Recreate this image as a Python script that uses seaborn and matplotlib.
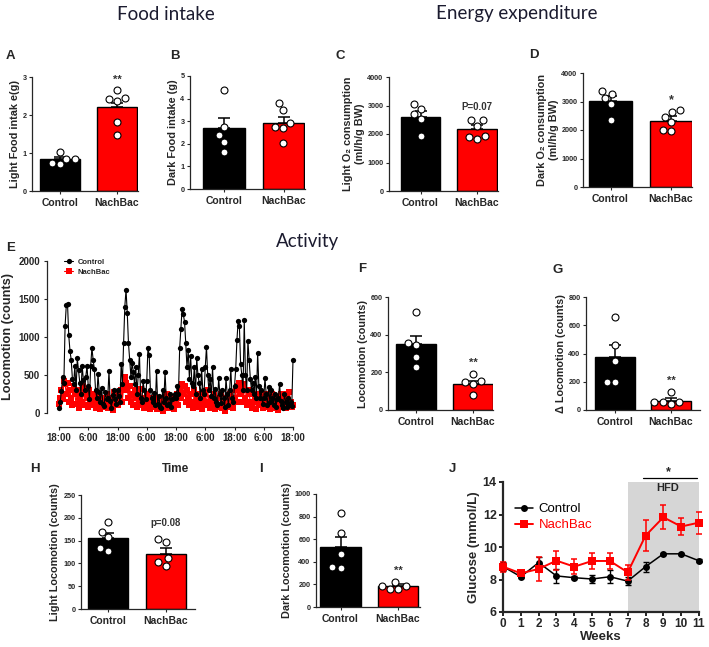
import numpy as np
import pandas as pd
import matplotlib
matplotlib.use('Agg')
import matplotlib.pyplot as plt
import seaborn as sns

sns.set_theme(style='ticks')
plt.rcParams['font.family'] = ['Liberation Sans', 'DejaVu Sans']
plt.rcParams['font.weight'] = 'bold'
plt.rcParams['axes.labelweight'] = 'bold'

W, H = 709, 647
groups = ['Control', 'NachBac']
bar_colors = ['#000000', '#ff0000']

# ---------------- data ----------------
# A: light food intake (g)
a_mean = [0.85, 2.2]
a_sem = [0.05, 0.11]
a_ctrl = [1.02, 0.85, 0.71, 0.75, 0.85]
a_nb = [2.65, 2.45, 2.36, 2.42, 1.81, 1.48]
# B: dark food intake (g)
b_mean = [2.7, 2.9]
b_sem = [0.43, 0.27]
b_ctrl = [4.38, 2.76, 2.39, 2.09, 1.65]
b_nb = [3.79, 3.5, 2.9, 2.73, 2.68, 2.05]
# C: light O2 consumption
c_mean = [2610, 2165]
c_sem = [200, 150]
c_ctrl = [3053, 2865, 2690, 2515, 1941]
c_nb = [2491, 2491, 2281, 1941, 1825, 1906]
# D: dark O2 consumption
d_mean = [3030, 2330]
d_sem = [165, 160]
d_ctrl = [3263, 3380, 3111, 2900, 2351]
d_nb = [2702, 2620, 2468, 2269, 1977, 2000]
# F: locomotion
f_mean = [349, 138]
f_sem = [46, 17]
f_ctrl = [522, 344, 356, 282, 229]
f_nb = [190, 150, 140, 155, 79]
# G: delta locomotion
g_mean = [376, 62]
g_sem = [83, 20]
g_ctrl = [659, 459, 346, 198, 198]
g_nb = [129, 54, 42, 54, 59]
# H: light locomotion
h_mean = [155, 121]
h_sem = [12, 12]
h_ctrl = [190, 169, 157, 128, 134]
h_nb = [153, 148, 112, 95, 103]
# I: dark locomotion
i_mean = [533, 186]
i_sem = [88, 15]
i_ctrl = [828, 651, 473, 343, 355]
i_nb = [225, 186, 160, 160, 189]

# E: locomotion time course (30-min bins over 4 days)
e_hours = [k * 0.5 for k in range(193)]
e_ctrl = [60, 150, 290, 480, 400, 1150, 1420, 1430, 1020, 820, 700, 450, 380, 620, 300, 720, 560, 400, 250, 620, 440, 300, 480, 620,
          350, 180, 620, 860, 700, 580, 300, 200, 510, 280, 150, 330, 120, 90, 280, 180, 200, 550, 160, 60, 240, 300, 180, 120,
          300, 220, 150, 650, 380, 920, 1400, 1620, 1320, 920, 700, 480, 660, 540, 380, 600, 250, 500, 780, 200, 150, 420, 300, 180,
          420, 860, 760, 300, 200, 140, 260, 100, 550, 120, 220, 80, 60, 300, 150, 540, 200, 100, 120, 250, 80, 180, 200, 250,
          200, 350, 250, 850, 1100, 1370, 1300, 1200, 920, 600, 830, 450, 750, 400, 350, 600, 250, 720, 500, 400, 200, 580, 300, 250,
          600, 870, 500, 300, 450, 220, 600, 200, 320, 150, 100, 460, 250, 130, 300, 200, 80, 460, 250, 100, 300, 580, 200, 150,
          350, 580, 960, 1210, 1150, 650, 500, 300, 1220, 500, 300, 950, 700, 450, 300, 400, 250, 480, 200, 790, 350, 200, 300, 120,
          200, 460, 250, 100, 340, 150, 300, 200, 100, 250, 80, 180, 200, 380, 160, 100, 60, 250, 150, 80, 200, 100, 150, 90,
          700]
e_nb = [120, 200, 300, 180, 420, 380, 250, 400, 150, 300, 200, 100, 350, 250, 120, 300, 60, 200, 280, 150, 350, 100, 250, 200,
        80, 300, 150, 250, 100, 200, 60, 180, 250, 100, 50, 200, 150, 80, 120, 250, 60, 150, 100, 200, 40, 280, 120, 150,
        100, 200, 250, 300, 150, 350, 470, 400, 300, 200, 350, 150, 250, 100, 300, 200, 80, 250, 150, 320, 100, 200, 60, 150,
        250, 100, 200, 50, 150, 80, 200, 120, 50, 180, 100, 60, 150, 30, 200, 100, 80, 250, 60, 150, 100, 200, 50, 120,
        150, 250, 100, 300, 200, 380, 250, 350, 150, 300, 200, 100, 250, 150, 60, 300, 120, 200, 80, 250, 150, 50, 180, 100,
        250, 100, 300, 150, 60, 200, 120, 250, 50, 150, 200, 80, 100, 250, 60, 150, 30, 200, 120, 80, 250, 100, 150, 60,
        200, 300, 150, 350, 400, 250, 300, 150, 380, 200, 100, 300, 250, 150, 60, 250, 150, 200, 50, 180, 100, 250, 120, 60,
        150, 250, 80, 200, 100, 50, 180, 250, 60, 150, 100, 200, 40, 150, 250, 80, 120, 200, 60, 250, 100, 280, 150, 80,
        100]
e_ticks = [0, 12, 24, 36, 48, 60, 72, 84, 96]
e_ticklabels = ['18:00', '6:00', '18:00', '6:00', '18:00', '6:00', '18:00', '6:00', '18:00']

# J: glucose
weeks = list(range(12))
j_ctrl = [8.8, 8.17, 9.04, 8.22, 8.11, 8.03, 8.17, 7.9, 8.79, 9.58, 9.58, 9.15]
j_ctrl_sem = [0.25, 0.1, 0.33, 0.42, 0.1, 0.25, 0.4, 0.25, 0.3, 0.05, 0.08, 0.1]
j_nb = [8.79, 8.38, 8.65, 9.16, 8.79, 9.14, 9.14, 8.44, 10.7, 11.83, 11.26, 11.5]
j_nb_sem = [0.3, 0.12, 0.73, 0.6, 0.45, 0.47, 0.47, 0.45, 0.95, 0.74, 0.53, 0.68]

# ---------------- figure ----------------
fig = plt.figure(figsize=(W / 100, H / 100), dpi=100)


def axes_px(left, top, right, bottom):
    return fig.add_axes([left / W, 1 - bottom / H, (right - left) / W, (bottom - top) / H])


def letter(x, y, s):
    fig.text(x / W, 1 - y / H, s, fontsize=9.5, fontweight='bold', ha='center', va='center')


def bar_panel(box, ylim, yticks, mean, sem, ctrl, nb, ylabel, sig=None, sig_y=None, sig_size=8):
    axis_x, c0, c1, right_px, top_px, bot_px = box
    s = c1 - c0
    ax = axes_px(axis_x, top_px, right_px, bot_px)
    df = pd.DataFrame({'group': groups, 'value': mean})
    sns.barplot(data=df, x='group', y='value', hue='group', order=groups, hue_order=groups,
                palette=bar_colors, saturation=1, edgecolor='black', linewidth=1.0, width=0.7,
                errorbar=None, legend=False, ax=ax)
    for p in ax.patches:
        p.set_zorder(2)
    pts = pd.DataFrame({'group': ['Control'] * len(ctrl) + ['NachBac'] * len(nb),
                        'value': list(ctrl) + list(nb)})
    sns.swarmplot(data=pts, x='group', y='value', order=groups, color='white',
                  edgecolor='black', linewidth=0.8, size=5.0, zorder=4, ax=ax)
    ax.errorbar([0, 1], mean, yerr=[[0, 0], sem], fmt='none', ecolor='black',
                elinewidth=1.1, capsize=4, capthick=1.1, zorder=3)
    ax.set_xlim(-(c0 - axis_x) / s, 1 + (right_px - c1) / s)
    ax.set_ylim(*ylim)
    ax.set_yticks(yticks)
    ax.set_xlabel('')
    ax.set_ylabel(ylabel, fontsize=7.8, labelpad=2)
    sns.despine(ax=ax)
    for sp in ['left', 'bottom']:
        ax.spines[sp].set_linewidth(0.9)
    ax.tick_params(axis='y', labelsize=5.2, length=2.5, width=0.8, pad=1.5)
    ax.tick_params(axis='x', labelsize=7.5, length=2.5, width=0.8, pad=2.5)
    for t in ax.get_xticklabels() + ax.get_yticklabels():
        t.set_fontweight('bold')
    if sig is not None:
        ax.text(1, sig_y, sig, ha='center', va='center', fontsize=sig_size,
                color='#333333', fontweight='bold')
    return ax


# Titles
fig.text(166 / W, 1 - 14 / H, 'Food intake', fontsize=13.5, family=['Lato', 'DejaVu Sans'],
         fontweight='normal', color='#1b1b2f', ha='center', va='center')
fig.text(517 / W, 1 - 14 / H, 'Energy expenditure', fontsize=13.5, family=['Lato', 'DejaVu Sans'],
         fontweight='normal', color='#1b1b2f', ha='center', va='center')
fig.text(307 / W, 1 - 241 / H, 'Activity', fontsize=13.5, family=['Lato', 'DejaVu Sans'],
         fontweight='normal', color='#1b1b2f', ha='center', va='center')

# A
bar_panel((32, 60, 117, 138, 77, 191), (0, 3), [0, 1, 2, 3], a_mean, a_sem, a_ctrl, a_nb,
          'Light Food intak e(g)', '**', 2.92)
letter(10, 56, 'A')
# B
bar_panel((190, 224, 283.5, 305, 76, 189), (0, 5), [0, 1, 2, 3, 4, 5], b_mean, b_sem, b_ctrl, b_nb,
          'Dark Food intake (g)')
letter(175, 56, 'B')
# C
bar_panel((389, 420.5, 477, 498, 77, 191), (0, 4000), [0, 1000, 2000, 3000, 4000], c_mean, c_sem, c_ctrl, c_nb,
          'Light O\u2082 consumption\n(ml/h/g BW)', 'P=0.07', 2947, 7)
letter(340, 56, 'C')
# D
bar_panel((583, 610.5, 671, 692, 73, 187), (0, 4000), [0, 1000, 2000, 3000, 4000], d_mean, d_sem, d_ctrl, d_nb,
          'Dark O\u2082 consumption\n(ml/h/g BW)', '*', 3053, 9)
letter(534, 55, 'D')
# F
bar_panel((388, 416, 473, 493, 297, 410), (0, 600), [0, 200, 400, 600], f_mean, f_sem, f_ctrl, f_nb,
          'Locomotion (counts)', '**', 251)
letter(362, 269, 'F')
# G
bar_panel((586, 615, 671, 700, 297, 410), (0, 800), [0, 200, 400, 600, 800], g_mean, g_sem, g_ctrl, g_nb,
          '\u0394 Locomotion (counts)', '**', 207)
letter(558, 270, 'G')
# H
bar_panel((81, 108, 166, 195, 495, 609), (0, 250), [0, 50, 100, 150, 200, 250], h_mean, h_sem, h_ctrl, h_nb,
          'Light Locomotion (counts)', 'p=0.08', 189, 7)
letter(35, 469, 'H')
# I
bar_panel((316, 340.5, 398, 420, 494, 607), (0, 1000), [0, 200, 400, 600, 800, 1000], i_mean, i_sem, i_ctrl, i_nb,
          'Dark Locomotion (counts)', '**', 321)
letter(261, 469, 'I')

# E
axE = axes_px(59, 261, 293, 413)
sns.lineplot(x=e_hours, y=e_nb, ax=axE, color='#ff0000', marker='s', markersize=3.8,
             markeredgewidth=0, linewidth=0.8, estimator=None, label='NachBac')
sns.lineplot(x=e_hours, y=e_ctrl, ax=axE, color='black', marker='o', markersize=3.8,
             markeredgewidth=0, linewidth=0.8, estimator=None, label='Control')
for ln in axE.lines:
    ln.set_clip_on(False)
axE.set_xlim(0, 96)
axE.set_ylim(0, 2000)
axE.set_xticks(e_ticks)
axE.set_xticklabels(e_ticklabels)
axE.set_yticks([0, 500, 1000, 1500, 2000])
sns.despine(ax=axE)
axE.spines['left'].set_position(('outward', 9))
axE.spines['bottom'].set_position(('outward', 10))
for sp in ['left', 'bottom']:
    axE.spines[sp].set_linewidth(0.9)
axE.tick_params(axis='both', labelsize=7, length=2.5, width=0.8, pad=2)
for t in axE.get_xticklabels() + axE.get_yticklabels():
    t.set_fontweight('bold')
axE.set_ylabel('Locomotion (counts)', fontsize=9.2, labelpad=3)
axE.set_xlabel('Time', fontsize=8.5, labelpad=14)
hE, lE = axE.get_legend_handles_labels()
axE.legend(hE[::-1], lE[::-1], loc='upper left', bbox_to_anchor=(-0.01, 1.06), frameon=False,
           handlelength=1.3, handletextpad=0.5, labelspacing=0.3,
           prop={'weight': 'bold', 'size': 5.5})
letter(11, 248, 'E')

# J
axJ = axes_px(503, 482, 699, 612)
axJ.axvspan(7, 11, color='#d6d6d6', lw=0, zorder=0)
sns.lineplot(x=weeks, y=j_ctrl, ax=axJ, color='black', marker='o', markersize=5,
             markeredgewidth=0, linewidth=1.1, estimator=None, label='Control', zorder=3)
axJ.errorbar(weeks, j_ctrl, yerr=j_ctrl_sem, fmt='none', ecolor='black', elinewidth=1.0,
             capsize=2.5, capthick=1.0, zorder=3)
sns.lineplot(x=weeks, y=j_nb, ax=axJ, color='#ff0000', marker='s', markersize=5.5,
             markeredgewidth=0, linewidth=1.4, estimator=None, label='NachBac', zorder=4)
axJ.errorbar(weeks, j_nb, yerr=j_nb_sem, fmt='none', ecolor='#ff0000', elinewidth=1.1,
             capsize=2.5, capthick=1.1, zorder=4)
for ln in axJ.lines:
    ln.set_clip_on(False)
axJ.set_xlim(0, 11)
axJ.set_ylim(6, 14)
axJ.set_xticks(weeks)
axJ.set_yticks([6, 8, 10, 12, 14])
sns.despine(ax=axJ)
for sp in ['left', 'bottom']:
    axJ.spines[sp].set_linewidth(1.6)
axJ.tick_params(axis='x', labelsize=8.5, length=3, width=1.4, pad=1)
axJ.tick_params(axis='y', labelsize=9, length=3, width=1.4, pad=1.5)
for t in axJ.get_xticklabels() + axJ.get_yticklabels():
    t.set_fontweight('bold')
axJ.set_xlabel('Weeks', fontsize=9.5, labelpad=1)
axJ.set_ylabel('Glucose (mmol/L)', fontsize=9.5, labelpad=2)
axJ.legend(loc='upper left', bbox_to_anchor=(0.0, 0.93), frameon=False,
           handlelength=1.4, handletextpad=0.4, labelspacing=0.3, labelcolor='linecolor',
           prop={'weight': 'normal', 'size': 9.5})
axJ.text(9.27, 13.62, 'HFD', ha='center', va='center', fontsize=8, fontweight='bold')
axJ.plot([7.86, 10.9], [14.25, 14.25], color='black', lw=0.9, clip_on=False)
axJ.text(9.27, 14.62, '*', ha='center', va='center', fontsize=9, fontweight='bold', clip_on=False)
letter(452, 469, 'J')

fig.savefig('out.png', dpi=100)
